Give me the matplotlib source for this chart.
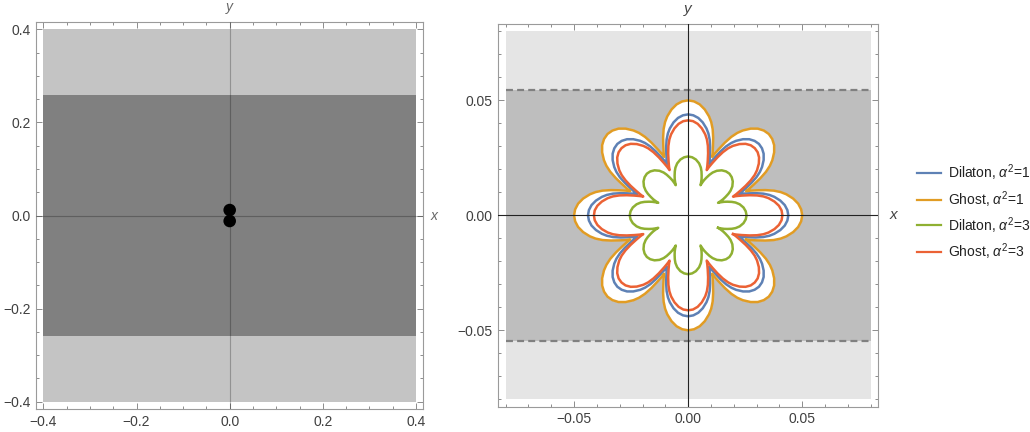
import numpy as np
import matplotlib
matplotlib.use('Agg')
import matplotlib.pyplot as plt
from matplotlib.lines import Line2D
from matplotlib.patches import Rectangle, Circle

plt.rcParams['font.family'] = ['Liberation Sans', 'DejaVu Sans']
plt.rcParams['mathtext.fontset'] = 'custom'
plt.rcParams['mathtext.rm'] = 'Liberation Sans'
plt.rcParams['mathtext.it'] = 'Liberation Sans:italic'
plt.rcParams['lines.scale_dashes'] = False

# left panel: square region, inner band and the two disks
left_half = 0.4
left_band = 0.26
blob_y = [0.0118, -0.0118]
blob_r = 0.0135
left_ticks = [-0.4, -0.2, 0.0, 0.2, 0.4]
left_labels = ['\u22120.4', '\u22120.2', '0.0', '0.2', '0.4']

# right panel: square region, band edges (dashed)
right_half = 0.08
right_band = 0.0547
right_ticks = [-0.05, 0.0, 0.05]
right_labels = ['\u22120.05', '0.00', '0.05']

# half-petal profiles: angle from petal axis (deg) and radius
n_petals = 8
petal_phi = [0, 3, 6, 9, 12, 14, 16, 18, 20, 21.5, 22.5]
dil1_r = [0.0439, 0.04355, 0.04258, 0.04091, 0.03863, 0.0367, 0.03424, 0.03117, 0.02792, 0.02573, 0.02415]
gho1_r = [0.0500, 0.0496, 0.0485, 0.0466, 0.0440, 0.0418, 0.0390, 0.0355, 0.0318, 0.0293, 0.0275]
gho3_r = [0.0413, 0.0410, 0.0400, 0.0383, 0.0360, 0.0340, 0.0314, 0.0283, 0.0251, 0.0229, 0.0213]
lobe_phi = [0, 4, 8, 12, 15, 17, 19, 20.5, 21.5, 22.5]
dil3_r = [0.0256, 0.0253, 0.0245, 0.0231, 0.0215, 0.0200, 0.0182, 0.0168, 0.0156, 0.0142]

series = [
    ('Dilaton, $\\alpha^2$=1', petal_phi, dil1_r, '#5e81b5'),
    ('Ghost, $\\alpha^2$=1', petal_phi, gho1_r, '#e19c24'),
    ('Dilaton, $\\alpha^2$=3', lobe_phi, dil3_r, '#8fb032'),
    ('Ghost, $\\alpha^2$=3', petal_phi, gho3_r, '#eb6235'),
]


def flower(phi, r):
    # mirror the half petal, then repeat it around the circle
    phi = np.asarray(phi)
    r = np.asarray(r)
    p = np.concatenate([-phi[::-1], phi[1:]])
    rr = np.concatenate([r[::-1], r[1:]])
    th, rad = [], []
    for k in range(n_petals):
        th.append(np.radians(k * 360.0 / n_petals + p))
        rad.append(rr)
    th = np.concatenate(th)
    rad = np.concatenate(rad)
    th = np.append(th, th[0])
    rad = np.append(rad, rad[0])
    return rad * np.cos(th), rad * np.sin(th)


def style_axes(ax, lim, ticks, labels, minor_step):
    ax.set_xlim(-lim, lim)
    ax.set_ylim(-lim, lim)
    ax.set_xticks(ticks)
    ax.set_xticklabels(labels)
    ax.set_yticks(ticks)
    ax.set_yticklabels(labels)
    minors = np.arange(-8, 9) * minor_step
    ax.set_xticks(minors[np.abs(minors) <= lim], minor=True)
    ax.set_yticks(minors[np.abs(minors) <= lim], minor=True)
    ax.tick_params(which='both', direction='in', top=True, right=True,
                   color='#8c8c8c', width=0.7, labelsize=10, labelcolor='#404040', pad=4)
    ax.tick_params(which='major', length=4)
    ax.tick_params(which='minor', length=2.2)
    for s in ax.spines.values():
        s.set_color('#9a9a9a')
        s.set_linewidth(0.8)


fig = plt.figure(figsize=(10.3, 4.32), dpi=100)

# left panel
ax1 = fig.add_axes([0.035, 0.0532, 0.376, 0.8958])
ax1.add_patch(Rectangle((-left_half, -left_half), 2 * left_half, 2 * left_half,
                        facecolor='#c4c4c4', edgecolor='none', zorder=1))
ax1.add_patch(Rectangle((-left_half, -left_band), 2 * left_half, 2 * left_band,
                        facecolor='#808080', edgecolor='none', zorder=2))
for yc in blob_y:
    ax1.add_patch(Circle((0, yc), blob_r, facecolor='black', edgecolor='none', zorder=3))
ax1.axhline(0, color='black', alpha=0.25, lw=0.8, zorder=4)
ax1.axvline(0, color='black', alpha=0.25, lw=0.8, zorder=4)
style_axes(ax1, 0.416, left_ticks, left_labels, 0.05)
ax1.text(0, 1.02, 'y', transform=ax1.get_xaxis_transform(), ha='center', va='bottom',
         style='italic', color='#666666', fontsize=10)
ax1.text(1.018, 0, 'x', transform=ax1.get_yaxis_transform(), ha='left', va='center',
         style='italic', color='#666666', fontsize=10)

# right panel
ax2 = fig.add_axes([0.4838, 0.0586, 0.3686, 0.8859])
ax2.add_patch(Rectangle((-right_half, -right_half), 2 * right_half, 2 * right_half,
                        facecolor='#e5e5e5', edgecolor='none', zorder=1))
ax2.add_patch(Rectangle((-right_half, -right_band), 2 * right_half, 2 * right_band,
                        facecolor='#bebebe', edgecolor='none', zorder=2))
for yb in (right_band, -right_band):
    ax2.plot([-right_half, right_half], [yb, yb], color='#808080', lw=1.6,
             dashes=(5, 3), zorder=3)

gx, gy = flower(petal_phi, gho1_r)
ax2.fill(gx, gy, color='white', zorder=3)
handles = []
for label, phi, r, col in series:
    x, y = flower(phi, r)
    ax2.plot(x, y, color=col, lw=1.8, zorder=5, solid_joinstyle='round')
    handles.append((label, col))

ax2.axhline(0, color='#222222', lw=0.8, zorder=6)
ax2.axvline(0, color='#222222', lw=0.8, zorder=6)
style_axes(ax2, 0.0832, right_ticks, right_labels, 0.01)
ax2.text(0, 1.02, 'y', transform=ax2.get_xaxis_transform(), ha='center', va='bottom',
         style='italic', color='#444444', fontsize=11)
ax2.text(1.03, 0, 'x', transform=ax2.get_yaxis_transform(), ha='left', va='center',
         style='italic', color='#444444', fontsize=11)

# legend to the right of the second panel
row_y = [173, 199.5, 225.5, 251.5]
for (label, col), yp in zip(handles, row_y):
    fy = 1 - yp / 432
    fig.add_artist(Line2D([916.5 / 1030, 940.5 / 1030], [fy, fy], color=col, lw=1.6))
    fig.text(948 / 1030, fy, label, ha='left', va='center', fontsize=10, color='#222222')

fig.savefig('out.png', dpi=100)
